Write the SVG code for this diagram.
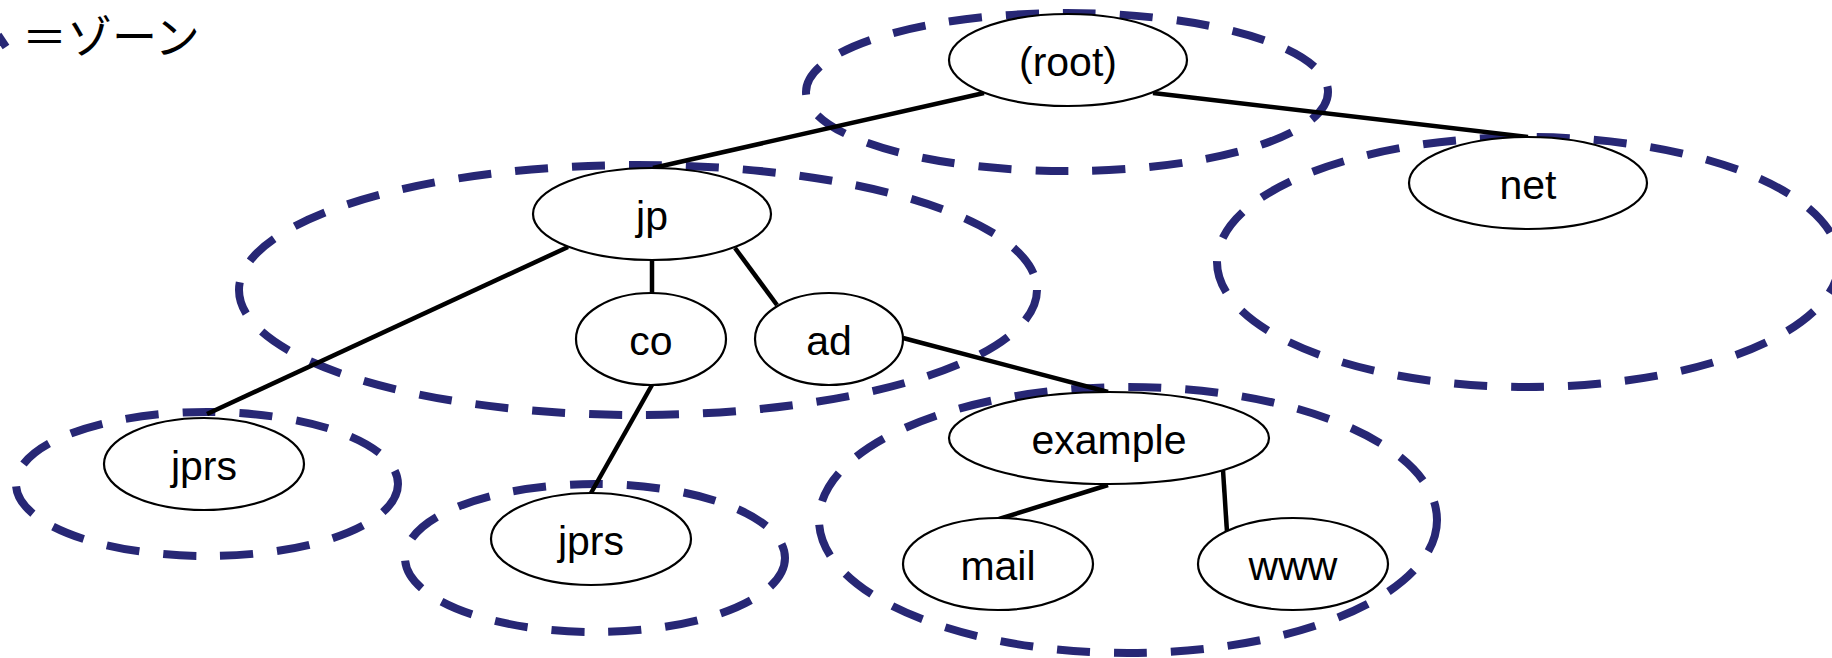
<svg xmlns="http://www.w3.org/2000/svg" width="1832" height="658" viewBox="0 0 1832 658">
  <style>
    .zone { fill: none; stroke: #272775; stroke-width: 8; stroke-dasharray: 33 24; }
    .edge { stroke: #000; stroke-width: 4.5; fill: none; }
    .node ellipse { fill: #fff; stroke: #000; stroke-width: 2.2; }
    .node text { font-family: "Liberation Sans", Arial, sans-serif; font-size: 41px; fill: #000; text-anchor: middle; }
    .legend { font-family: "Noto Sans CJK JP", "Noto Sans", sans-serif; font-size: 45px; fill: #000; }
  </style>

  <!-- legend: dashed loop stands for a zone -->
  <g id="legend">
    <path d="M -2 35 L 6 47" class="zone" stroke-dasharray="none"/>
    <text class="legend" x="22" y="54">＝ゾーン</text>
  </g>

  <!-- zone boundaries -->
  <g id="zones">
    <ellipse id="zone-root" class="zone" cx="1067" cy="92" rx="261" ry="79"/>
    <ellipse id="zone-net" class="zone" cx="1528" cy="262" rx="311" ry="125"/>
    <ellipse id="zone-jp" class="zone" cx="638" cy="290" rx="399" ry="125"/>
    <ellipse id="zone-jprs-1" class="zone" cx="207" cy="484" rx="191" ry="72"/>
    <ellipse id="zone-jprs-2" class="zone" cx="595" cy="558" rx="190" ry="74"/>
    <ellipse id="zone-example" class="zone" cx="1128" cy="520" rx="309" ry="133"/>
  </g>

  <!-- tree edges -->
  <g id="connectors">
    <line class="edge" x1="984" y1="93" x2="653" y2="168"/>
    <line class="edge" x1="1153" y1="93" x2="1528" y2="137"/>
    <line class="edge" x1="568" y1="247" x2="207" y2="414"/>
    <line class="edge" x1="652" y1="260" x2="652" y2="293"/>
    <line class="edge" x1="735" y1="248" x2="777" y2="305"/>
    <line class="edge" x1="652" y1="385" x2="591" y2="493"/>
    <line class="edge" x1="903" y1="338" x2="1108" y2="392"/>
    <line class="edge" x1="1108" y1="485" x2="999" y2="519"/>
    <line class="edge" x1="1223" y1="470" x2="1227" y2="532"/>
  </g>

  <g id="node-root" class="node">
    <ellipse cx="1068" cy="60" rx="119" ry="46"/>
    <text x="1068" y="76">(root)</text>
  </g>
  <g id="node-net" class="node">
    <ellipse cx="1528" cy="183" rx="119" ry="46"/>
    <text x="1528" y="199">net</text>
  </g>
  <g id="node-jp" class="node">
    <ellipse cx="652" cy="214" rx="119" ry="46"/>
    <text x="652" y="230">jp</text>
  </g>
  <g id="node-co" class="node">
    <ellipse cx="651" cy="339" rx="75" ry="46"/>
    <text x="651" y="355">co</text>
  </g>
  <g id="node-ad" class="node">
    <ellipse cx="829" cy="339" rx="74" ry="46"/>
    <text x="829" y="355">ad</text>
  </g>
  <g id="node-jprs-1" class="node">
    <ellipse cx="204" cy="464" rx="100" ry="46"/>
    <text x="204" y="480">jprs</text>
  </g>
  <g id="node-jprs-2" class="node">
    <ellipse cx="591" cy="539" rx="100" ry="46"/>
    <text x="591" y="555">jprs</text>
  </g>
  <g id="node-example" class="node">
    <ellipse cx="1109" cy="438" rx="160" ry="46"/>
    <text x="1109" y="454">example</text>
  </g>
  <g id="node-mail" class="node">
    <ellipse cx="998" cy="564" rx="95" ry="46"/>
    <text x="998" y="580">mail</text>
  </g>
  <g id="node-www" class="node">
    <ellipse cx="1293" cy="564" rx="95" ry="46"/>
    <text x="1293" y="580">www</text>
  </g>
</svg>
